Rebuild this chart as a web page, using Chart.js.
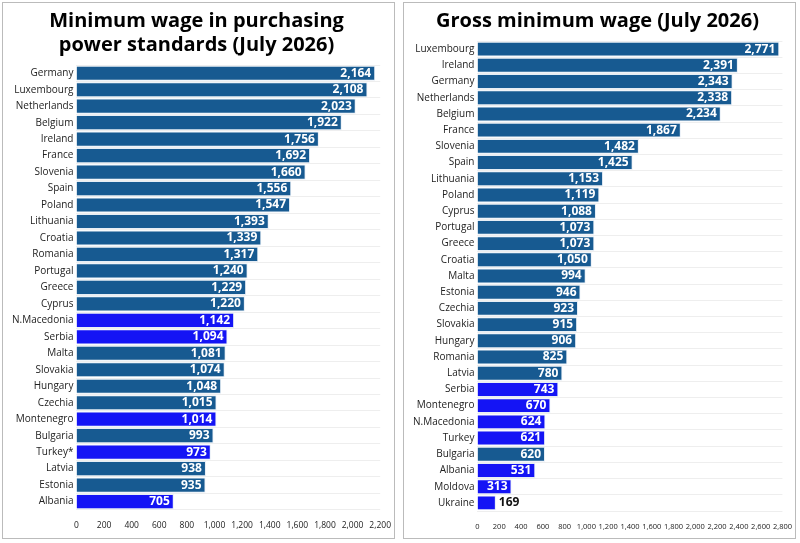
<!DOCTYPE html>
<html>
<head>
<meta charset="utf-8">
<script src="https://cdn.jsdelivr.net/npm/chart.js@4/dist/chart.umd.min.js"></script>
<style>
  body { margin: 0; background: #fff; font-family: "Open Sans", sans-serif; }
  .panel { position: absolute; top: 2px; width: 393px; height: 537px; border: 1px solid #bbb; box-sizing: border-box; }
  #p1 { left: 2px; }
  #p2 { left: 403px; }
</style>
</head>
<body>
<div class="panel" id="p1"><canvas id="pps"></canvas></div>
<div class="panel" id="p2"><canvas id="gross"></canvas></div>
<script>
// PPS chart data
const ppsCountries = ['Germany', 'Luxembourg', 'Netherlands', 'Belgium', 'Ireland', 'France', 'Slovenia', 'Spain', 'Poland', 'Lithuania', 'Croatia', 'Romania', 'Portugal', 'Greece', 'Cyprus', 'N.Macedonia', 'Serbia', 'Malta', 'Slovakia', 'Hungary', 'Czechia', 'Montenegro', 'Bulgaria', 'Turkey*', 'Latvia', 'Estonia', 'Albania'];
const ppsValues = [2164, 2108, 2023, 1922, 1756, 1692, 1660, 1556, 1547, 1393, 1339, 1317, 1240, 1229, 1220, 1142, 1094, 1081, 1074, 1048, 1015, 1014, 993, 973, 938, 935, 705];
const ppsNonEU = ['N.Macedonia', 'Serbia', 'Montenegro', 'Turkey*', 'Albania'];

// Gross wage chart data
const grossCountries = ['Luxembourg', 'Ireland', 'Germany', 'Netherlands', 'Belgium', 'France', 'Slovenia', 'Spain', 'Lithuania', 'Poland', 'Cyprus', 'Portugal', 'Greece', 'Croatia', 'Malta', 'Estonia', 'Czechia', 'Slovakia', 'Hungary', 'Romania', 'Latvia', 'Serbia', 'Montenegro', 'N.Macedonia', 'Turkey', 'Bulgaria', 'Albania', 'Moldova', 'Ukraine'];
const grossValues = [2771, 2391, 2343, 2338, 2234, 1867, 1482, 1425, 1153, 1119, 1088, 1073, 1073, 1050, 994, 946, 923, 915, 906, 825, 780, 743, 670, 624, 621, 620, 531, 313, 169];
const grossNonEU = ['Serbia', 'Montenegro', 'N.Macedonia', 'Turkey', 'Albania', 'Moldova', 'Ukraine'];

const EU_BLUE = '#175a91';
const NON_EU_BLUE = '#1414f5';

const barLabels = {
  id: 'barLabels',
  afterDatasetsDraw(chart) {
    const ctx = chart.ctx;
    const meta = chart.getDatasetMeta(0);
    ctx.save();
    ctx.font = 'bold 12px "Open Sans"';
    ctx.textBaseline = 'middle';
    meta.data.forEach((bar, i) => {
      const v = chart.data.datasets[0].data[i];
      const txt = v.toLocaleString('en-US');
      const w = ctx.measureText(txt).width;
      if (bar.x - bar.base > w + 10) {
        ctx.fillStyle = '#fff';
        ctx.textAlign = 'right';
        ctx.fillText(txt, bar.x - 4, bar.y);
      } else {
        ctx.fillStyle = '#111';
        ctx.textAlign = 'left';
        ctx.fillText(txt, bar.x + 3, bar.y);
      }
    });
    ctx.restore();
  }
};

function makeChart(id, title, labels, values, nonEU, max, tickSize) {
  new Chart(document.getElementById(id), {
    type: 'bar',
    data: {
      labels: labels,
      datasets: [{
        data: values,
        backgroundColor: labels.map(l => nonEU.includes(l) ? NON_EU_BLUE : EU_BLUE),
        borderColor: '#e6eef6',
        borderWidth: 1,
        barPercentage: 0.92,
        categoryPercentage: 1
      }]
    },
    options: {
      indexAxis: 'y',
      responsive: true,
      maintainAspectRatio: false,
      animation: false,
      layout: { padding: { left: 6, right: 10, bottom: 4, top: 4 } },
      plugins: {
        legend: { display: false },
        tooltip: { enabled: false },
        title: {
          display: true,
          text: title,
          color: '#000',
          font: { family: 'Open Sans', size: 20, weight: 'bold' },
          padding: { top: 2, bottom: 8 },
          lineHeight: 1.2
        }
      },
      scales: {
        x: {
          min: 0, max: max,
          ticks: { stepSize: 200, color: '#222', font: { family: 'Open Sans', size: tickSize }, maxRotation: 0, autoSkip: false },
          grid: { display: false },
          border: { display: false }
        },
        y: {
          ticks: { color: '#222', font: { family: 'Open Sans', size: 10 }, autoSkip: false },
          grid: { color: '#eeeeee', drawTicks: false },
          border: { display: false }
        }
      }
    },
    plugins: [barLabels]
  });
}

makeChart('pps', ['Minimum wage in purchasing', 'power standards (July 2026)'], ppsCountries, ppsValues, ppsNonEU, 2200, 8.5);
makeChart('gross', 'Gross minimum wage (July 2026)', grossCountries, grossValues, grossNonEU, 2800, 7.5);
</script>
</body>
</html>
